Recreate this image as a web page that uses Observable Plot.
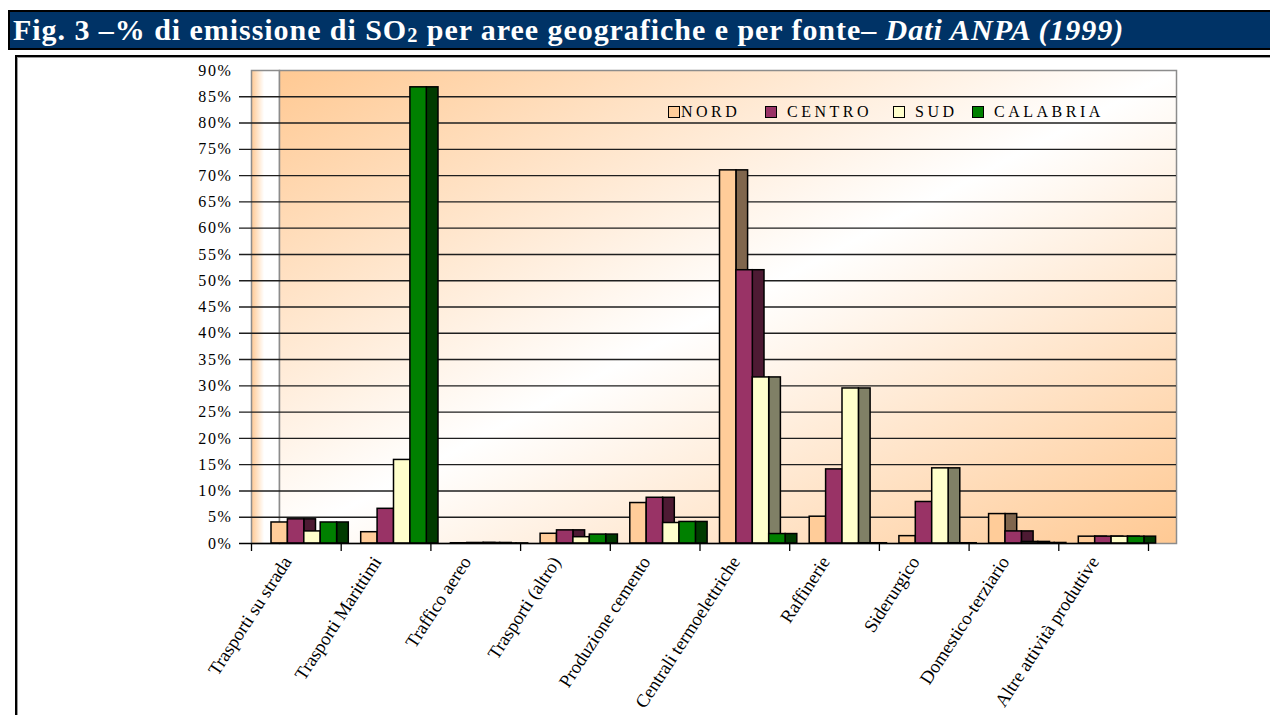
<!DOCTYPE html>
<html><head><meta charset="utf-8">
<script src="https://cdn.jsdelivr.net/npm/d3@7"></script>
<script src="https://cdn.jsdelivr.net/npm/@observablehq/plot@0.6"></script>
<style>
body{margin:0;width:1270px;height:715px;overflow:hidden;background:#fff;position:relative;font-family:"Liberation Serif","Times New Roman",serif}
#title{position:absolute;left:8px;top:10px;width:1262px;height:40px;box-sizing:border-box;background:#003366;border:2px solid #000;border-right:none;color:#fff;font-weight:bold;font-size:30px;letter-spacing:0.95px;line-height:35px;padding-left:3px;white-space:nowrap;overflow:hidden}
#title .sub{font-size:0.68em;vertical-align:-0.12em}
#box{position:absolute;left:15px;top:55px;width:1270px;height:680px;box-sizing:border-box;border:2px solid #000;box-shadow:inset 0 0 0 1px #999;background:#fff}
#chart{position:absolute;left:0;top:55px;z-index:1}
.leg{position:absolute;top:104px;height:16px;z-index:2;display:flex;align-items:center;font-size:16px;letter-spacing:3.5px;color:#000;white-space:nowrap}
.leg .sq{width:10px;height:10px;border:1px solid #000;display:inline-block}
g[aria-label="y-axis tick label"] text{letter-spacing:1.6px}
</style>
</head><body>
<div id="title">Fig. 3 –% di emissione di SO<span class="sub">2</span> per aree geografiche e per fonte– <i>Dati ANPA (1999)</i></div>
<div id="box"></div>
<div id="chart"></div>
<div id="legend"></div>
<script>
const categories = ["Trasporti su strada","Trasporti Marittimi","Traffico aereo","Trasporti (altro)","Produzione cemento","Centrali termoelettriche","Raffinerie","Siderurgico","Domestico-terziario","Altre attività produttive"];
const seriesNames = ["NORD","CENTRO","SUD","CALABRIA"];
const nord     = [4.0, 2.15, 0.05, 1.85, 7.7, 71.0, 5.1, 1.4, 5.6, 1.3];
const centro   = [4.6, 6.6, 0.1, 2.5, 8.7, 52.0, 14.1, 7.9, 2.3, 1.3];
const sud      = [2.3, 15.9, 0.1, 1.2, 3.9, 31.6, 29.5, 14.3, 0.3, 1.3];
const calabria = [4.0, 86.8, 0.02, 1.7, 4.1, 1.8, 0.05, 0.05, 0.1, 1.3];
const seriesValues = [nord, centro, sud, calabria];
const frontColors = ["#FFCC99","#993366","#FFFFCC","#008000"];
const sideColors  = ["#80664D","#4D1A33","#808066","#003B00"];
const yTicks = [0,5,10,15,20,25,30,35,40,45,50,55,60,65,70,75,80,85,90];

const W = 1270, H = 660;
const mL = 251, mR = 122, mT = 15, mB = 172;
const innerW = W - mL - mR;
const bw = innerW / categories.length;
const depth = 28, off = 20, fw = 16.4, sw = 11.7;

const rows = categories.flatMap((c, i) => seriesValues.map((vals, k) => ({cat: c, i, k, value: vals[i]})));

const marks = [
  Plot.frame({fill: "url(#leftWall)", stroke: "#8c8c8c", strokeWidth: 1.5, insetRight: innerW - depth}),
  Plot.frame({fill: "url(#backWall)", stroke: "#8c8c8c", strokeWidth: 1.5, dx: depth}),
  Plot.ruleY(yTicks.filter(t => t > 0 && t < 90), {stroke: "#1e1e1e", strokeWidth: 1.4, insetLeft: -12, insetRight: -depth})
];
seriesNames.forEach((s, k) => {
  const d = rows.filter(r => r.k === k);
  marks.push(Plot.rect(d, {x1: "i", x2: r => r.i + 1, y1: 0, y2: "value", fill: sideColors[k], stroke: "#000", strokeWidth: 1.5,
    insetLeft: off + (k + 1) * fw, insetRight: bw - (off + (k + 1) * fw + sw)}));
  marks.push(Plot.rect(d, {x1: "i", x2: r => r.i + 1, y1: 0, y2: "value", fill: frontColors[k], stroke: "#000", strokeWidth: 1.5,
    insetLeft: off + k * fw, insetRight: bw - (off + (k + 1) * fw)}));
});
marks.push(Plot.ruleY([0], {stroke: "#000", strokeWidth: 1.6, insetLeft: -12}));
marks.push(Plot.axisY({ticks: yTicks, tickFormat: d => d + "%", tickSize: 0, tickPadding: 19, fontSize: 16, label: null}));
marks.push(Plot.axisX({ticks: d3.range(categories.length + 1), tickSize: 8, tickFormat: () => "", label: null, strokeWidth: 1.3}));
marks.push(Plot.axisX({ticks: categories.map((_, i) => i + 0.5), tickSize: 0, tickPadding: 10, tickRotate: -57, dx: -9, dy: 5,
  tickFormat: d => categories[Math.floor(d)], fontSize: 18.5, label: null}));

const chart = Plot.plot({
  width: W, height: H,
  marginLeft: mL, marginRight: mR, marginTop: mT, marginBottom: mB,
  style: {fontFamily: '"Liberation Serif","Times New Roman",serif', fontSize: "16px", background: "transparent", overflow: "visible", color: "#000"},
  x: {domain: [0, categories.length]},
  y: {domain: [0, 90]},
  marks
});
const svg = d3.select(chart);
const defs = svg.insert("defs", ":first-child");
const bg = defs.append("linearGradient").attr("id", "backWall").attr("x1", 0).attr("y1", 0).attr("x2", 1).attr("y2", 1);
bg.append("stop").attr("offset", 0).attr("stop-color", "#FFC993");
bg.append("stop").attr("offset", 0.5).attr("stop-color", "#FFFFFF");
bg.append("stop").attr("offset", 1).attr("stop-color", "#FFC993");
const lg = defs.append("linearGradient").attr("id", "leftWall").attr("x1", 0).attr("y1", 0).attr("x2", 1).attr("y2", 0);
lg.append("stop").attr("offset", 0).attr("stop-color", "#FFC993");
lg.append("stop").attr("offset", 0.45).attr("stop-color", "#FFFFFF");
lg.append("stop").attr("offset", 1).attr("stop-color", "#FFFFFF");
document.getElementById("chart").appendChild(chart);

const legendX = [668, 765, 893, 972];
const legendGap = [1, 10, 10, 10];
const legend = document.getElementById("legend");
seriesNames.forEach((s, k) => {
  const item = document.createElement("div");
  item.className = "leg";
  item.style.left = legendX[k] + "px";
  const sq = document.createElement("span");
  sq.className = "sq";
  sq.style.background = frontColors[k];
  sq.style.marginRight = legendGap[k] + "px";
  item.appendChild(sq);
  item.appendChild(document.createTextNode(s));
  legend.appendChild(item);
});
</script>
</body></html>
